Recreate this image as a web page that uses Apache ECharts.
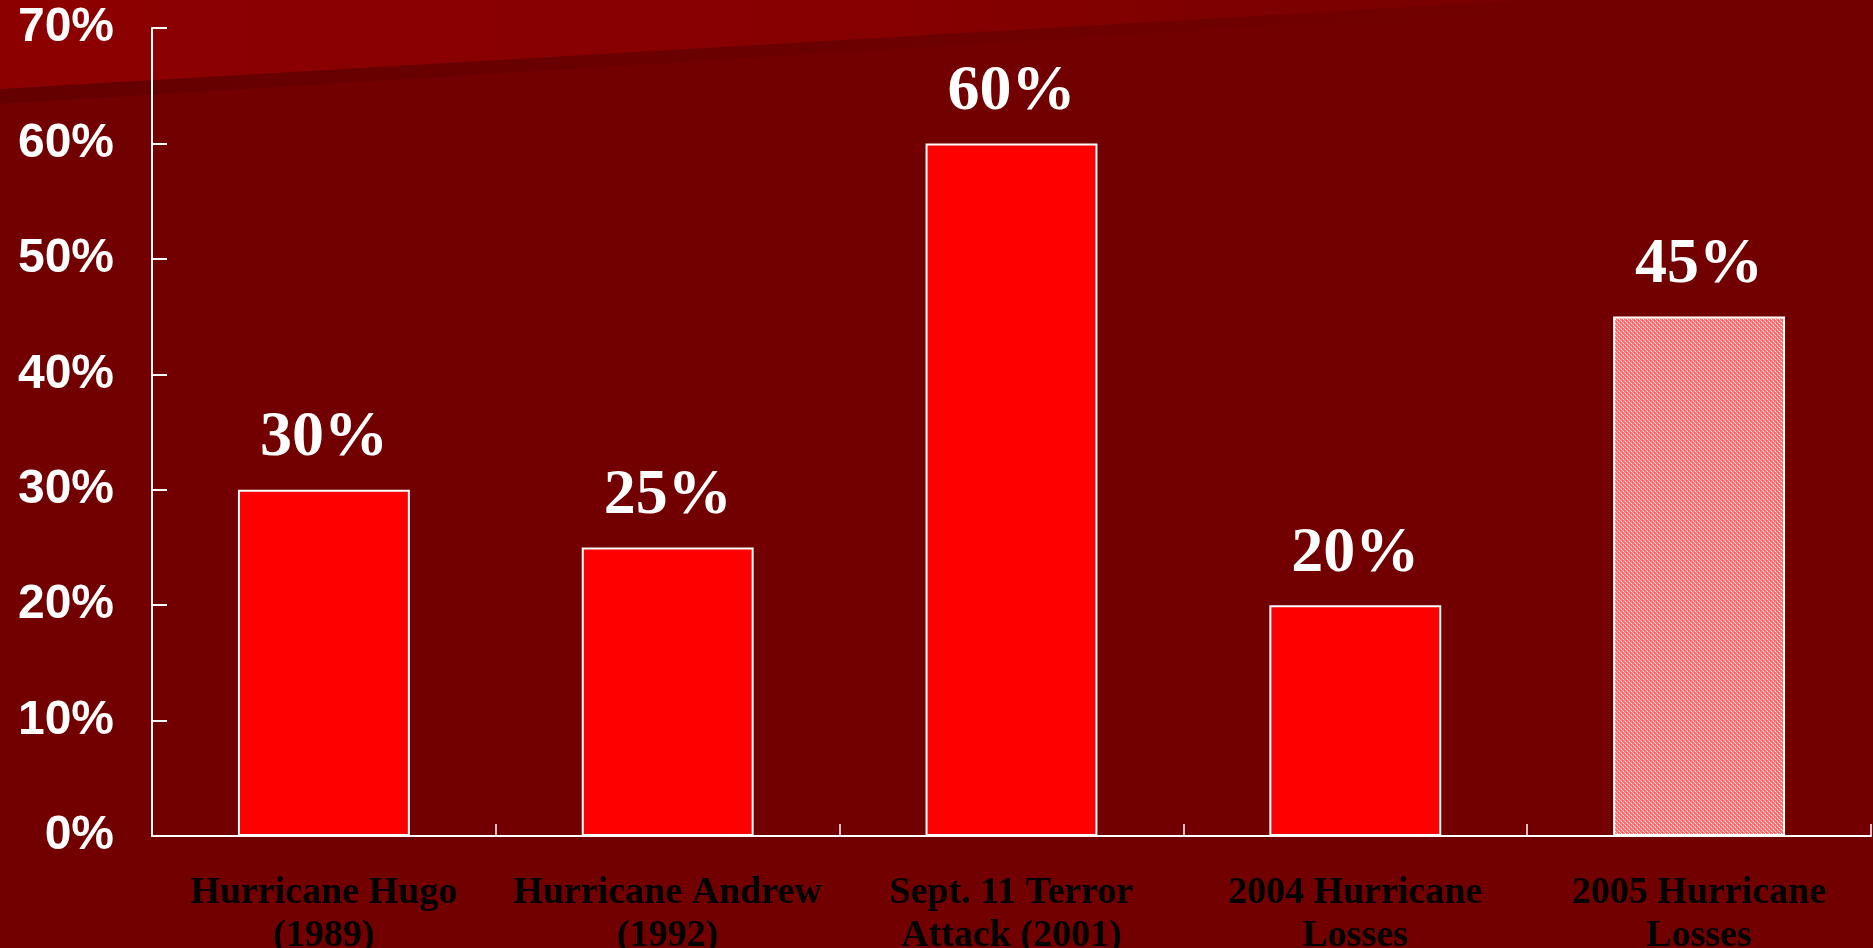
<!DOCTYPE html>
<html>
<head>
<meta charset="utf-8">
<script src="https://cdn.jsdelivr.net/npm/echarts@6/dist/echarts.min.js"></script>
<style>
  html, body { margin: 0; padding: 0; background: #720000; }
  #main { width: 1873px; height: 948px; }
</style>
</head>
<body>
<div id="main"></div>
<script>
// categories and values
var categories = ['Hurricane Hugo\n(1989)', 'Hurricane Andrew\n(1992)', 'Sept. 11 Terror\nAttack (2001)', '2004 Hurricane\nLosses', '2005 Hurricane\nLosses'];
var values = [30, 25, 60, 20, 45];
var yTicks = { min: 0, max: 70, interval: 10 };

// small dotted pattern for the last (estimate) bar
function makePattern() {
  var c = document.createElement('canvas');
  c.width = 4;
  c.height = 4;
  var ctx = c.getContext('2d');
  ctx.fillStyle = '#ff7a7a';
  ctx.fillRect(0, 0, 4, 4);
  ctx.fillStyle = '#ffb0b0';
  ctx.fillRect(0, 0, 1, 1);
  ctx.fillRect(2, 2, 1, 1);
  ctx.fillStyle = '#ff4848';
  ctx.fillRect(2, 0, 1, 1);
  ctx.fillRect(0, 2, 1, 1);
  ctx.fillStyle = '#ffffff';
  ctx.fillRect(1, 1, 1, 1);
  ctx.fillRect(3, 3, 1, 1);
  return c;
}

var chart = echarts.init(document.getElementById('main'), null, { renderer: 'canvas' });

var barData = values.map(function (v, i) {
  if (i === values.length - 1) {
    return { value: v, itemStyle: { color: { image: makePattern(), repeat: 'repeat' } } };
  }
  return v;
});

var option = {
  backgroundColor: '#720000',
  animation: false,
  graphic: [
    {
      type: 'polygon',
      z: -10,
      silent: true,
      shape: { points: [[0, 0], [1530, 0], [0, 89]] },
      style: {
        fill: new echarts.graphic.LinearGradient(0, 0, 1, 0, [
          { offset: 0, color: '#8c0000' },
          { offset: 0.55, color: '#870000' },
          { offset: 1, color: '#780000' }
        ])
      }
    },
    {
      type: 'polygon',
      z: -10,
      silent: true,
      shape: { points: [[0, 89], [1530, 0], [1530, 10], [0, 104]] },
      style: {
        fill: new echarts.graphic.LinearGradient(0, 0, 1, 0, [
          { offset: 0, color: 'rgba(60,0,0,0.25)' },
          { offset: 1, color: 'rgba(60,0,0,0)' }
        ])
      }
    }
  ],
  grid: {
    left: 152,
    right: 2,
    top: 28,
    bottom: 112,
    containLabel: false,
    outerBoundsMode: 'none'
  },
  xAxis: {
    type: 'category',
    data: categories,
    axisLine: { show: true, lineStyle: { color: '#ffffff', width: 2 } },
    axisTick: { show: true, inside: true, length: 12, lineStyle: { color: '#ffffff', width: 1.5 } },
    axisLabel: {
      color: '#000000',
      fontFamily: 'Liberation Serif',
      fontWeight: 'bold',
      fontSize: 38,
      lineHeight: 43,
      margin: 36,
      interval: 0
    }
  },
  yAxis: {
    type: 'value',
    min: yTicks.min,
    max: yTicks.max,
    interval: yTicks.interval,
    splitLine: { show: false },
    axisLine: { show: true, lineStyle: { color: '#ffffff', width: 2 } },
    axisTick: { show: true, inside: true, length: 15, lineStyle: { color: '#ffffff', width: 2 } },
    axisLabel: {
      color: '#ffffff',
      fontFamily: 'Liberation Sans',
      fontWeight: 'bold',
      fontSize: 48,
      margin: 38,
      formatter: '{value}%'
    }
  },
  series: [
    {
      type: 'bar',
      data: barData,
      barWidth: '50%',
      itemStyle: {
        color: '#ff0000',
        borderColor: '#ffffff',
        borderWidth: 2
      },
      label: {
        show: true,
        position: 'top',
        distance: 19,
        color: '#ffffff',
        fontFamily: 'Liberation Serif',
        fontWeight: 'bold',
        fontSize: 64,
        formatter: '{c}%'
      }
    }
  ]
};

chart.setOption(option);
</script>
</body>
</html>
